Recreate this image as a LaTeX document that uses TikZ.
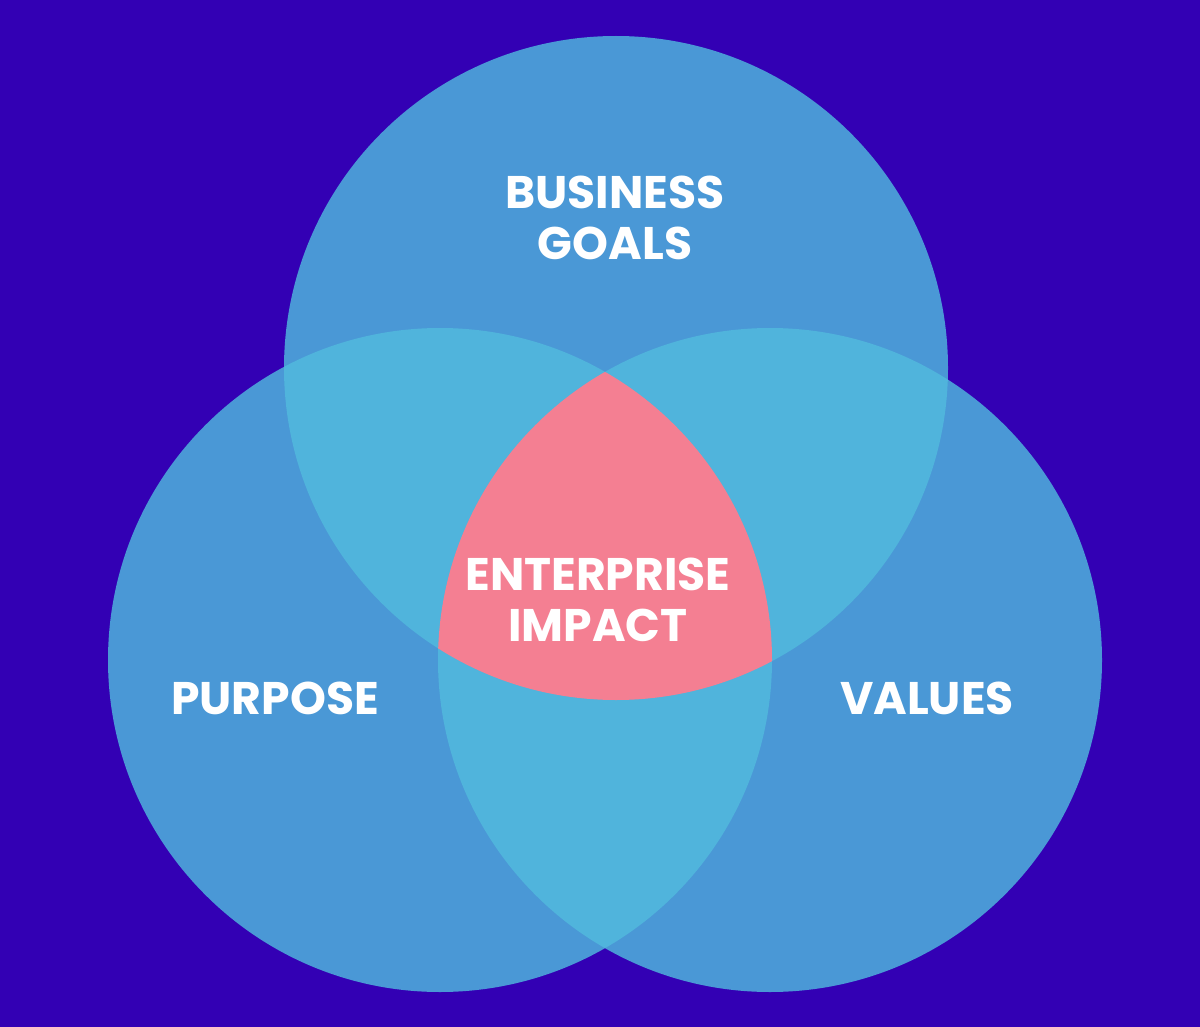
\documentclass[tikz,border=0pt]{standalone}
\usepackage{fontspec}
\newfontfamily\venfont{Poppins}
\usepackage{tikz}
\usetikzlibrary{positioning}

\definecolor{bgpurple}{HTML}{3300B4}
\definecolor{ringblue}{HTML}{4A98D6}
\definecolor{overlapblue}{HTML}{50B4DC}
\definecolor{corepink}{HTML}{F47F92}

\tikzset{
  venlabel/.style={text=white,align=center,font=\venfont\bfseries\fontsize{26}{29}\selectfont}
}

\begin{document}
\begin{tikzpicture}[x=0.02cm,y=-0.02cm]
\fill[bgpurple] (0,0) rectangle (1200,1027);
\useasboundingbox (0,0) rectangle (1200,1027);
% the three sets
\fill[ringblue] (616,368) circle[radius=332];
\fill[ringblue] (440,660) circle[radius=332];
\fill[ringblue] (770,660) circle[radius=332];
% pairwise overlaps
\begin{scope}
\clip (616,368) circle[radius=332];
\fill[overlapblue] (440,660) circle[radius=332];
\fill[overlapblue] (770,660) circle[radius=332];
\end{scope}
\begin{scope}
\clip (440,660) circle[radius=332];
\fill[overlapblue] (770,660) circle[radius=332];
\end{scope}
% all three
\begin{scope}
\clip (616,368) circle[radius=332];
\clip (440,660) circle[radius=332];
\fill[corepink] (770,660) circle[radius=332];
\end{scope}
\node[venlabel] (goals) at (615,218) {BUSINESS\\GOALS};
\node[venlabel] (purpose) at (275,698) {PURPOSE};
\node[venlabel] (values) at (927,698) {VALUES};
\node[venlabel] (impact) at (598,600) {ENTERPRISE\\IMPACT};
\end{tikzpicture}
\end{document}
